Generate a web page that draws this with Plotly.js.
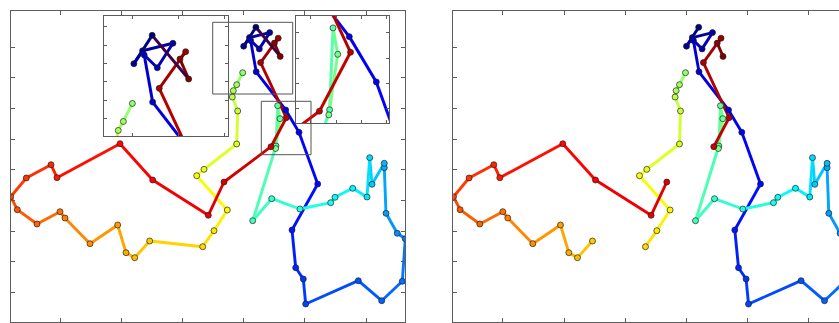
<!DOCTYPE html>
<html><head><meta charset="utf-8">
<script src="https://cdn.plot.ly/plotly-3.0.1.min.js"></script>
<style>html,body{margin:0;padding:0;overflow:hidden;background:#fff}#chart{width:860px;height:323px}</style>
</head><body><div id="chart"></div>
<script>
// Trajectory points in drawing order (arbitrary units, y grows downward)
const trackX = [255.9, 243.7, 249.5, 269.7, 259.3, 250.6, 256.2, 285.7, 299.0, 317.7,
  292.0, 295.7, 303.3, 305.7, 358.3, 381.7, 402.3, 405.3, 397.3, 386.0,
  384.3, 384.3, 372.0, 369.7, 367.0, 352.7, 335.0, 330.7, 300.0, 271.7,
  252.7, 276.0, 277.7, 280.0, 275.6, 242.7, 236.7, 233.3, 232.3, 237.7,
  236.7, 204.0, 196.7, 227.3, 214.0, 202.7, 149.7, 134.7, 126.0, 117.7,
  90.0, 65.0, 60.0, 37.0, 17.3, 10.7, 26.3, 51.0, 57.0, 120.0,
  152.7, 208.3, 224.0, 271.0, 286.3, 260.6, 278.2, 274.4, 280.2];
const trackY = [27.3, 46.2, 37.6, 32.6, 48.9, 40.4, 71.8, 110.0, 132.3, 184.0,
  230.0, 267.7, 279.0, 304.0, 280.7, 300.7, 281.3, 238.7, 233.3, 213.3,
  167.7, 163.3, 184.3, 157.7, 197.0, 188.3, 197.3, 202.7, 209.0, 198.7,
  220.7, 146.0, 105.7, 118.7, 148.5, 72.7, 84.7, 90.7, 97.0, 111.0,
  144.0, 169.3, 175.7, 210.0, 230.7, 246.7, 241.0, 257.7, 252.7, 225.0,
  243.7, 218.0, 211.7, 224.0, 209.7, 196.7, 178.0, 164.7, 177.7, 143.7,
  180.0, 215.3, 182.0, 146.7, 117.7, 62.6, 38.2, 43.1, 56.4];
// segments NOT drawn (index of the first point of the segment, 0-based)
const gapsLeft = [34];
const gapsRight = [34, 45, 62];
// zoom rectangles drawn on the left panel: [x0, y0, x1, y1]
const zoomRectA = [212.7, 22.3, 292.7, 94.0];
const zoomRectB = [261.3, 101.3, 311.0, 154.7];
// axis ranges
const mainXRange = [10.5, 405];
const mainYRange = [322.3, 10.5];
const insetAXRange = [224.0, 306.6], insetAYRange = [94.4, 14.4];
const insetBXRange = [259.6, 305.4], insetBYRange = [152.5, 99.7];
// ticks
const mainXTicks = [60, 121.2, 182.4, 243.6, 304.8, 366];
const mainYTicks = [47, 77.7, 108.3, 139, 169.7, 200.3, 231, 261.7, 292.3];
const insetAXTicks = [242.6, 273.3, 304.0];
const insetAYTicks = [21.6, 33.8, 46.0, 58.2, 70.4, 82.6];
const insetBXTicks = [266.8, 279.3, 291.8, 304.2];
const insetBYTicks = [108.0, 120.6, 133.0, 145.3];

const W = 860, H = 323;
function jetRGB(t){
  const c = v => Math.max(0, Math.min(1, v));
  return [c(1.5-Math.abs(4*t-3)), c(1.5-Math.abs(4*t-2)), c(1.5-Math.abs(4*t-1))];
}
const rgbStr = a => `rgb(${Math.round(a[0]*255)},${Math.round(a[1]*255)},${Math.round(a[2]*255)})`;
const N = trackX.length;
const ptCol = trackX.map((_, i) => jetRGB(i/(N-1)));
const mix = (a, b) => [(a[0]+b[0])/2, (a[1]+b[1])/2, (a[2]+b[2])/2];

const traces = [];
function addPanel(xa, ya, gaps, closed, lw){
  const segs = [];
  for (let i = 0; i < N-1; i++) if (!gaps.includes(i)) segs.push([i, i+1]);
  if (closed) segs.push([N-1, 0]);
  segs.forEach(([a, b]) => {
    traces.push({type:'scatter', mode:'lines', x:[trackX[a], trackX[b]], y:[trackY[a], trackY[b]],
      xaxis:xa, yaxis:ya, hoverinfo:'skip', showlegend:false,
      line:{color:rgbStr(mix(ptCol[a], ptCol[b])), width:lw}});
  });
  traces.push({type:'scatter', mode:'markers', x:trackX, y:trackY, xaxis:xa, yaxis:ya,
    hoverinfo:'skip', showlegend:false,
    marker:{size:6, color:ptCol.map(rgbStr), line:{color:'rgba(30,30,30,0.85)', width:0.8}}});
}
addPanel('x', 'y', gapsLeft, true, 2.9);
addPanel('x2', 'y2', gapsRight, false, 2.9);
addPanel('x3', 'y3', gapsLeft, true, 3);
addPanel('x4', 'y4', gapsLeft, true, 3);

const axBase = {showline:true, linecolor:'#5c5c5c', linewidth:1, mirror:'ticks', ticks:'inside',
  ticklen:4, tickcolor:'#5c5c5c', tickwidth:1, showticklabels:false, showgrid:false, zeroline:false,
  tickmode:'array'};
const dx = (a, b) => [a/W, b/W];
const dy = (top, bottom) => [(H-bottom)/H, (H-top)/H];
const rect = (r) => ({type:'rect', xref:'x', yref:'y', x0:r[0], y0:r[1], x1:r[2], y1:r[3],
  line:{color:'#555', width:1}, layer:'above'});
const ax = (o) => Object.assign({}, axBase, o);

const layout = {
  width: W, height: H, margin:{l:0, r:0, t:0, b:0},
  paper_bgcolor:'#fff', plot_bgcolor:'#fff', showlegend:false,
  xaxis: ax({anchor:'y', domain:dx(10.5, 405), range:mainXRange, tickvals:mainXTicks}),
  yaxis: ax({anchor:'x', domain:dy(10.5, 322.3), range:mainYRange, tickvals:mainYTicks}),
  xaxis2: ax({anchor:'y2', domain:dx(453.3, 847.8), range:mainXRange, tickvals:mainXTicks}),
  yaxis2: ax({anchor:'x2', domain:dy(10.5, 322.3), range:mainYRange, tickvals:mainYTicks}),
  xaxis3: ax({anchor:'y3', domain:dx(104.3, 228.3), range:insetAXRange, tickvals:insetAXTicks, ticklen:3}),
  yaxis3: ax({anchor:'x3', domain:dy(16, 136), range:insetAYRange, tickvals:insetAYTicks, ticklen:3}),
  xaxis4: ax({anchor:'y4', domain:dx(296.3, 389.3), range:insetBXRange, tickvals:insetBXTicks, ticklen:3}),
  yaxis4: ax({anchor:'x4', domain:dy(15.7, 123), range:insetBYRange, tickvals:insetBYTicks, ticklen:3}),
  shapes:[rect(zoomRectA), rect(zoomRectB)]
};
Plotly.newPlot('chart', traces, layout, {staticPlot:true, displayModeBar:false});
</script></body></html>
